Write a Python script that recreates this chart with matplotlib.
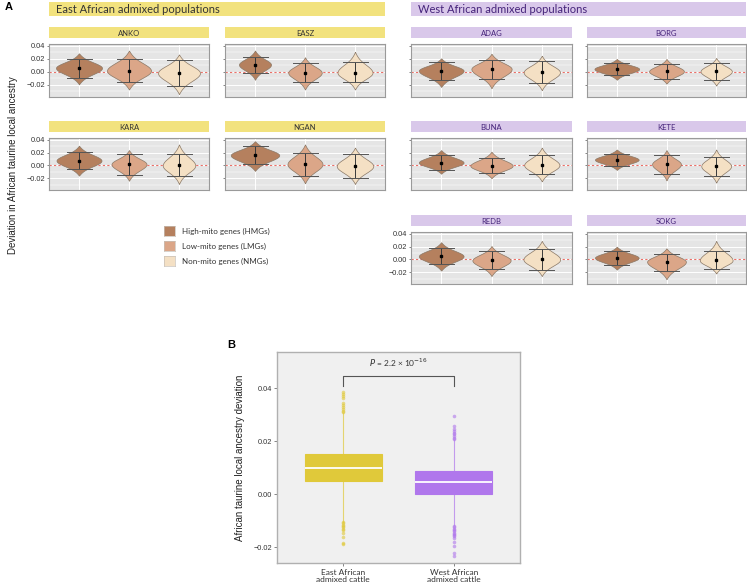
import numpy as np
import matplotlib
matplotlib.use("Agg")
import matplotlib.pyplot as plt

plt.rcParams['font.family'] = ['Lato', 'DejaVu Sans']

# ---------------- data: panel A ----------------
pops = ["ANKO", "EASZ", "KARA", "NGAN", "ADAG", "BORG", "BUNA", "KETE", "REDB", "SOKG"]
regions = ["East"] * 4 + ["West"] * 6
classes = ["High-mito genes (HMGs)", "Low-mito genes (LMGs)", "Non-mito genes (NMGs)"]

hmg_mean = [0.0062, 0.0113, 0.0076, 0.0160, 0.0020, 0.0046, 0.0045, 0.0090, 0.0050, 0.0026]
hmg_lo = [-0.0097, -0.0015, -0.0050, 0.0015, -0.0120, -0.0050, -0.0065, -0.0010, -0.0070, -0.0087]
hmg_hi = [0.0195, 0.0236, 0.0203, 0.0300, 0.0153, 0.0138, 0.0160, 0.0175, 0.0175, 0.0138]
hmg_min = [-0.0190, -0.0120, -0.0160, -0.0085, -0.0230, -0.0120, -0.0130, -0.0070, -0.0175, -0.0160]
hmg_max = [0.0287, 0.0330, 0.0310, 0.0380, 0.0210, 0.0200, 0.0240, 0.0250, 0.0270, 0.0200]
hmg_width = [0.92, 0.64, 0.90, 0.97, 0.89, 0.90, 0.89, 0.88, 0.89, 0.88]

lmg_mean = [0.0020, -0.0010, 0.0020, 0.0020, 0.0046, 0.0010, -0.0005, 0.0020, -0.0015, -0.0036]
lmg_lo = [-0.0160, -0.0154, -0.0150, -0.0170, -0.0110, -0.0110, -0.0120, -0.0135, -0.0150, -0.0180]
lmg_hi = [0.0195, 0.0133, 0.0180, 0.0190, 0.0180, 0.0120, 0.0115, 0.0165, 0.0128, 0.0080]
lmg_min = [-0.0270, -0.0270, -0.0240, -0.0280, -0.0250, -0.0180, -0.0200, -0.0235, -0.0260, -0.0310]
lmg_max = [0.0330, 0.0226, 0.0240, 0.0330, 0.0280, 0.0200, 0.0215, 0.0240, 0.0210, 0.0175]
lmg_width = [0.88, 0.67, 0.70, 0.70, 0.80, 0.70, 0.84, 0.58, 0.76, 0.78]

nmg_mean = [-0.0015, -0.0010, 0.0000, -0.0010, -0.0005, 0.0010, 0.0005, -0.0010, 0.0000, -0.0015]
nmg_lo = [-0.0220, -0.0154, -0.0170, -0.0190, -0.0170, -0.0120, -0.0140, -0.0160, -0.0165, -0.0150]
nmg_hi = [0.0180, 0.0154, 0.0180, 0.0175, 0.0170, 0.0138, 0.0160, 0.0130, 0.0160, 0.0138]
nmg_min = [-0.0340, -0.0270, -0.0290, -0.0290, -0.0280, -0.0210, -0.0250, -0.0270, -0.0260, -0.0220]
nmg_max = [0.0270, 0.0310, 0.0330, 0.0280, 0.0250, 0.0215, 0.0280, 0.0250, 0.0290, 0.0290]
nmg_width = [0.84, 0.70, 0.65, 0.73, 0.72, 0.63, 0.70, 0.60, 0.73, 0.66]

# ---------------- data: panel B ----------------
groups_b = ["East African\nadmixed cattle", "West African\nadmixed cattle"]
b_q1 = [0.0049, 0.0000]
b_med = [0.0098, 0.0045]
b_q3 = [0.0151, 0.0087]
b_whislo = [-0.0104, -0.0118]
b_whishi = [0.0304, 0.0205]
east_out = [0.0385, 0.0378, 0.0370, 0.0362, 0.0345, 0.0335, 0.0328, 0.0320, 0.0313, 0.0308,
            -0.0105, -0.0110, -0.0115, -0.0120, -0.0125, -0.0130, -0.0135, -0.0148, -0.0162,
            -0.0186, -0.0190]
west_out = [0.0294, 0.0256, 0.0245, 0.0238, 0.0232, 0.0226, 0.0220, 0.0213, 0.0208,
            -0.0120, -0.0125, -0.0130, -0.0135, -0.0140, -0.0145, -0.0150, -0.0155, -0.0160,
            -0.0165, -0.0180, -0.0196, -0.0223, -0.0232]
p_text = r"$\it{P}$ = 2.2 × 10$^{-16}$"

# ---------------- style ----------------
W, H = 747, 588
fig = plt.figure(figsize=(W / 100, H / 100), dpi=100)


def add_ax(x0, y0, x1, y1):
    return fig.add_axes([x0 / W, 1 - y1 / H, (x1 - x0) / W, (y1 - y0) / H])


fill_cols = ["#b5805e", "#dba688", "#f4e0c4"]
edge_col = "#8a7866"
east_col = "#f2e27e"
west_col = "#d9c8ea"
east_txt = "#333333"
west_txt = "#45237a"

col_x = [(49, 209), (225, 385), (411, 572), (587, 746)]
row_panel = [(44, 97), (138, 190), (232, 284)]
row_strip = [(27, 38), (121, 132), (215, 226)]
pos = {"ANKO": (0, 0), "EASZ": (1, 0), "KARA": (0, 1), "NGAN": (1, 1),
       "ADAG": (2, 0), "BORG": (3, 0), "BUNA": (2, 1), "KETE": (3, 1),
       "REDB": (2, 2), "SOKG": (3, 2)}
labelled = {"ANKO", "KARA", "REDB"}

# headers
for (x0, x1), col, txt, tc in [((49, 385), east_col, "East African admixed populations", east_txt),
                               ((411, 746), west_col, "West African admixed populations", west_txt)]:
    hax = add_ax(x0, 2, x1, 16)
    hax.set_facecolor(col)
    hax.set_xticks([]); hax.set_yticks([])
    for s in hax.spines.values():
        s.set_visible(False)
    hax.text(0.02, 0.45, txt, transform=hax.transAxes, ha="left", va="center",
             fontsize=8, color=tc)

means = [hmg_mean, lmg_mean, nmg_mean]
los = [hmg_lo, lmg_lo, nmg_lo]
his = [hmg_hi, lmg_hi, nmg_hi]
mins = [hmg_min, lmg_min, nmg_min]
maxs = [hmg_max, lmg_max, nmg_max]
widths = [hmg_width, lmg_width, nmg_width]

for pi, pop in enumerate(pops):
    c, r = pos[pop]
    x0, x1 = col_x[c]
    sy0, sy1 = row_strip[r]
    py0, py1 = row_panel[r]
    scol = east_col if regions[pi] == "East" else west_col
    stc = east_txt if regions[pi] == "East" else west_txt
    sax = add_ax(x0, sy0, x1, sy1)
    sax.set_facecolor(scol)
    sax.set_xticks([]); sax.set_yticks([])
    for s in sax.spines.values():
        s.set_visible(False)
    sax.text(0.5, 0.45, pop, transform=sax.transAxes, ha="center", va="center",
             fontsize=5.5, color=stc)

    ax = add_ax(x0, py0, x1, py1)
    ax.set_facecolor("#e5e5e5")
    ax.set_xlim(0.4, 3.6)
    ax.set_ylim(-0.0385, 0.043)
    ax.set_yticks([-0.02, 0.0, 0.02, 0.04])
    ax.set_yticks([-0.03, -0.01, 0.01, 0.03], minor=True)
    ax.set_xticks([1, 2, 3])
    ax.grid(True, which="major", color="white", lw=0.7)
    ax.grid(True, which="minor", axis="y", color="white", lw=0.35)
    ax.set_axisbelow(True)
    ax.tick_params(axis="x", length=0, labelbottom=False)
    ax.tick_params(axis="y", which="major", length=1.5, width=0.5, color="#555555",
                   labelsize=5.3, pad=1.5, labelcolor="#333333")
    ax.tick_params(axis="y", which="minor", length=0)
    if pop in labelled:
        ax.set_yticklabels(["\u22120.02", "0.00", "0.02", "0.04"], family="Liberation Sans")
    else:
        ax.set_yticklabels([])
    for s in ax.spines.values():
        s.set_color("#9a9a9a"); s.set_linewidth(0.8)
    ax.axhline(0, color="#ea7068", lw=0.8, ls=(0, (2, 2)), zorder=1.5)

    for k in range(3):
        xc = k + 1
        m = means[k][pi]
        vmin, vmax = mins[k][pi], maxs[k][pi]
        yy = np.linspace(vmin, vmax, 400)
        d = yy - m
        dist = np.where(d > 0, vmax - m, m - vmin)
        u = np.abs(d) / dist
        prof = (np.exp(-0.5 * (u * 2.7) ** 2) + 0.15 * np.exp(-0.5 * (u * 1.7) ** 2)) / 1.15
        prof = prof * (1 - u ** 10)
        half = widths[k][pi] / 2 * prof
        ax.fill_betweenx(yy, xc - half, xc + half, facecolor=fill_cols[k],
                         edgecolor=edge_col, lw=0.5, zorder=2)
        ax.plot([xc, xc], [los[k][pi], his[k][pi]], color="#3a3a3a", lw=0.7, zorder=3)
        for yv in (los[k][pi], his[k][pi]):
            ax.plot([xc - 0.25, xc + 0.25], [yv, yv], color="#555555", lw=0.7, zorder=3)
        ax.plot([xc], [m], marker="s", ms=1.8, color="black", zorder=4)

# legend
for k, lab in enumerate(classes):
    yc = 231 + 15 * k
    lax = add_ax(164, yc - 5, 175, yc + 5)
    lax.set_facecolor(fill_cols[k])
    lax.set_xticks([]); lax.set_yticks([])
    for s in lax.spines.values():
        s.set_color("#c8c0b8"); s.set_linewidth(0.5)
    fig.text(182 / W, 1 - yc / H, lab, ha="left", va="center", fontsize=5.8, color="#333333")

fig.text(13 / W, 1 - 165 / H, "Deviation in African taurine local ancestry", rotation=90,
         ha="center", va="center", fontsize=7, color="#222222", family="Liberation Sans")
fig.text(5 / W, 1 - 7 / H, "A", ha="left", va="center", fontsize=8, fontweight="bold",
         family="Liberation Sans")
fig.text(227 / W, 1 - 345 / H, "B", ha="left", va="center", fontsize=8, fontweight="bold",
         family="Liberation Sans")

# ---------------- panel B ----------------
bx = add_ax(277, 352, 520, 563)
bx.set_facecolor("#f0f0f0")
bx.set_xlim(0.4, 2.6)
bx.set_ylim(-0.026, 0.0536)
box_cols = ["#e0c93a", "#b077ec"]
outs = [east_out, west_out]
for i in range(2):
    st = dict(q1=b_q1[i], med=b_med[i], q3=b_q3[i], whislo=b_whislo[i], whishi=b_whishi[i],
              fliers=np.array(outs[i]))
    bx.bxp([st], positions=[i + 1], widths=0.7, patch_artist=True, showcaps=False,
           boxprops=dict(facecolor=box_cols[i], edgecolor=box_cols[i], lw=0.8),
           whiskerprops=dict(color=box_cols[i], lw=0.8, alpha=0.7),
           medianprops=dict(color="white", lw=1.3),
           flierprops=dict(marker="o", ms=2.6, markerfacecolor=box_cols[i],
                           markeredgecolor="none", alpha=0.6))
bx.set_xticks([1, 2])
bx.set_xticklabels(groups_b, fontsize=6, color="#333333", linespacing=1.12)
bx.set_yticks([-0.02, 0.0, 0.02, 0.04])
bx.set_yticklabels(["\u22120.02", "0.00", "0.02", "0.04"], family="Liberation Sans")
bx.tick_params(axis="y", labelsize=5.3, length=2, width=0.5, color="#555555", pad=1.5,
               labelcolor="#333333")
bx.tick_params(axis="x", length=2, width=0.5, color="#555555", pad=2)
for s in bx.spines.values():
    s.set_color("#b0b0b0"); s.set_linewidth(1.0)
bx.set_ylabel("African taurine local ancestry deviation", fontsize=7, color="#222222",
              family="Liberation Sans", labelpad=6)
ybr = 0.0445
bx.plot([1, 1, 2, 2], [ybr - 0.0038, ybr, ybr, ybr - 0.0038], color="#555555", lw=0.8)
bx.text(1.5, ybr + 0.0025, p_text, ha="center", va="bottom", fontsize=6, color="#333333")

fig.savefig("out.png", dpi=100)
